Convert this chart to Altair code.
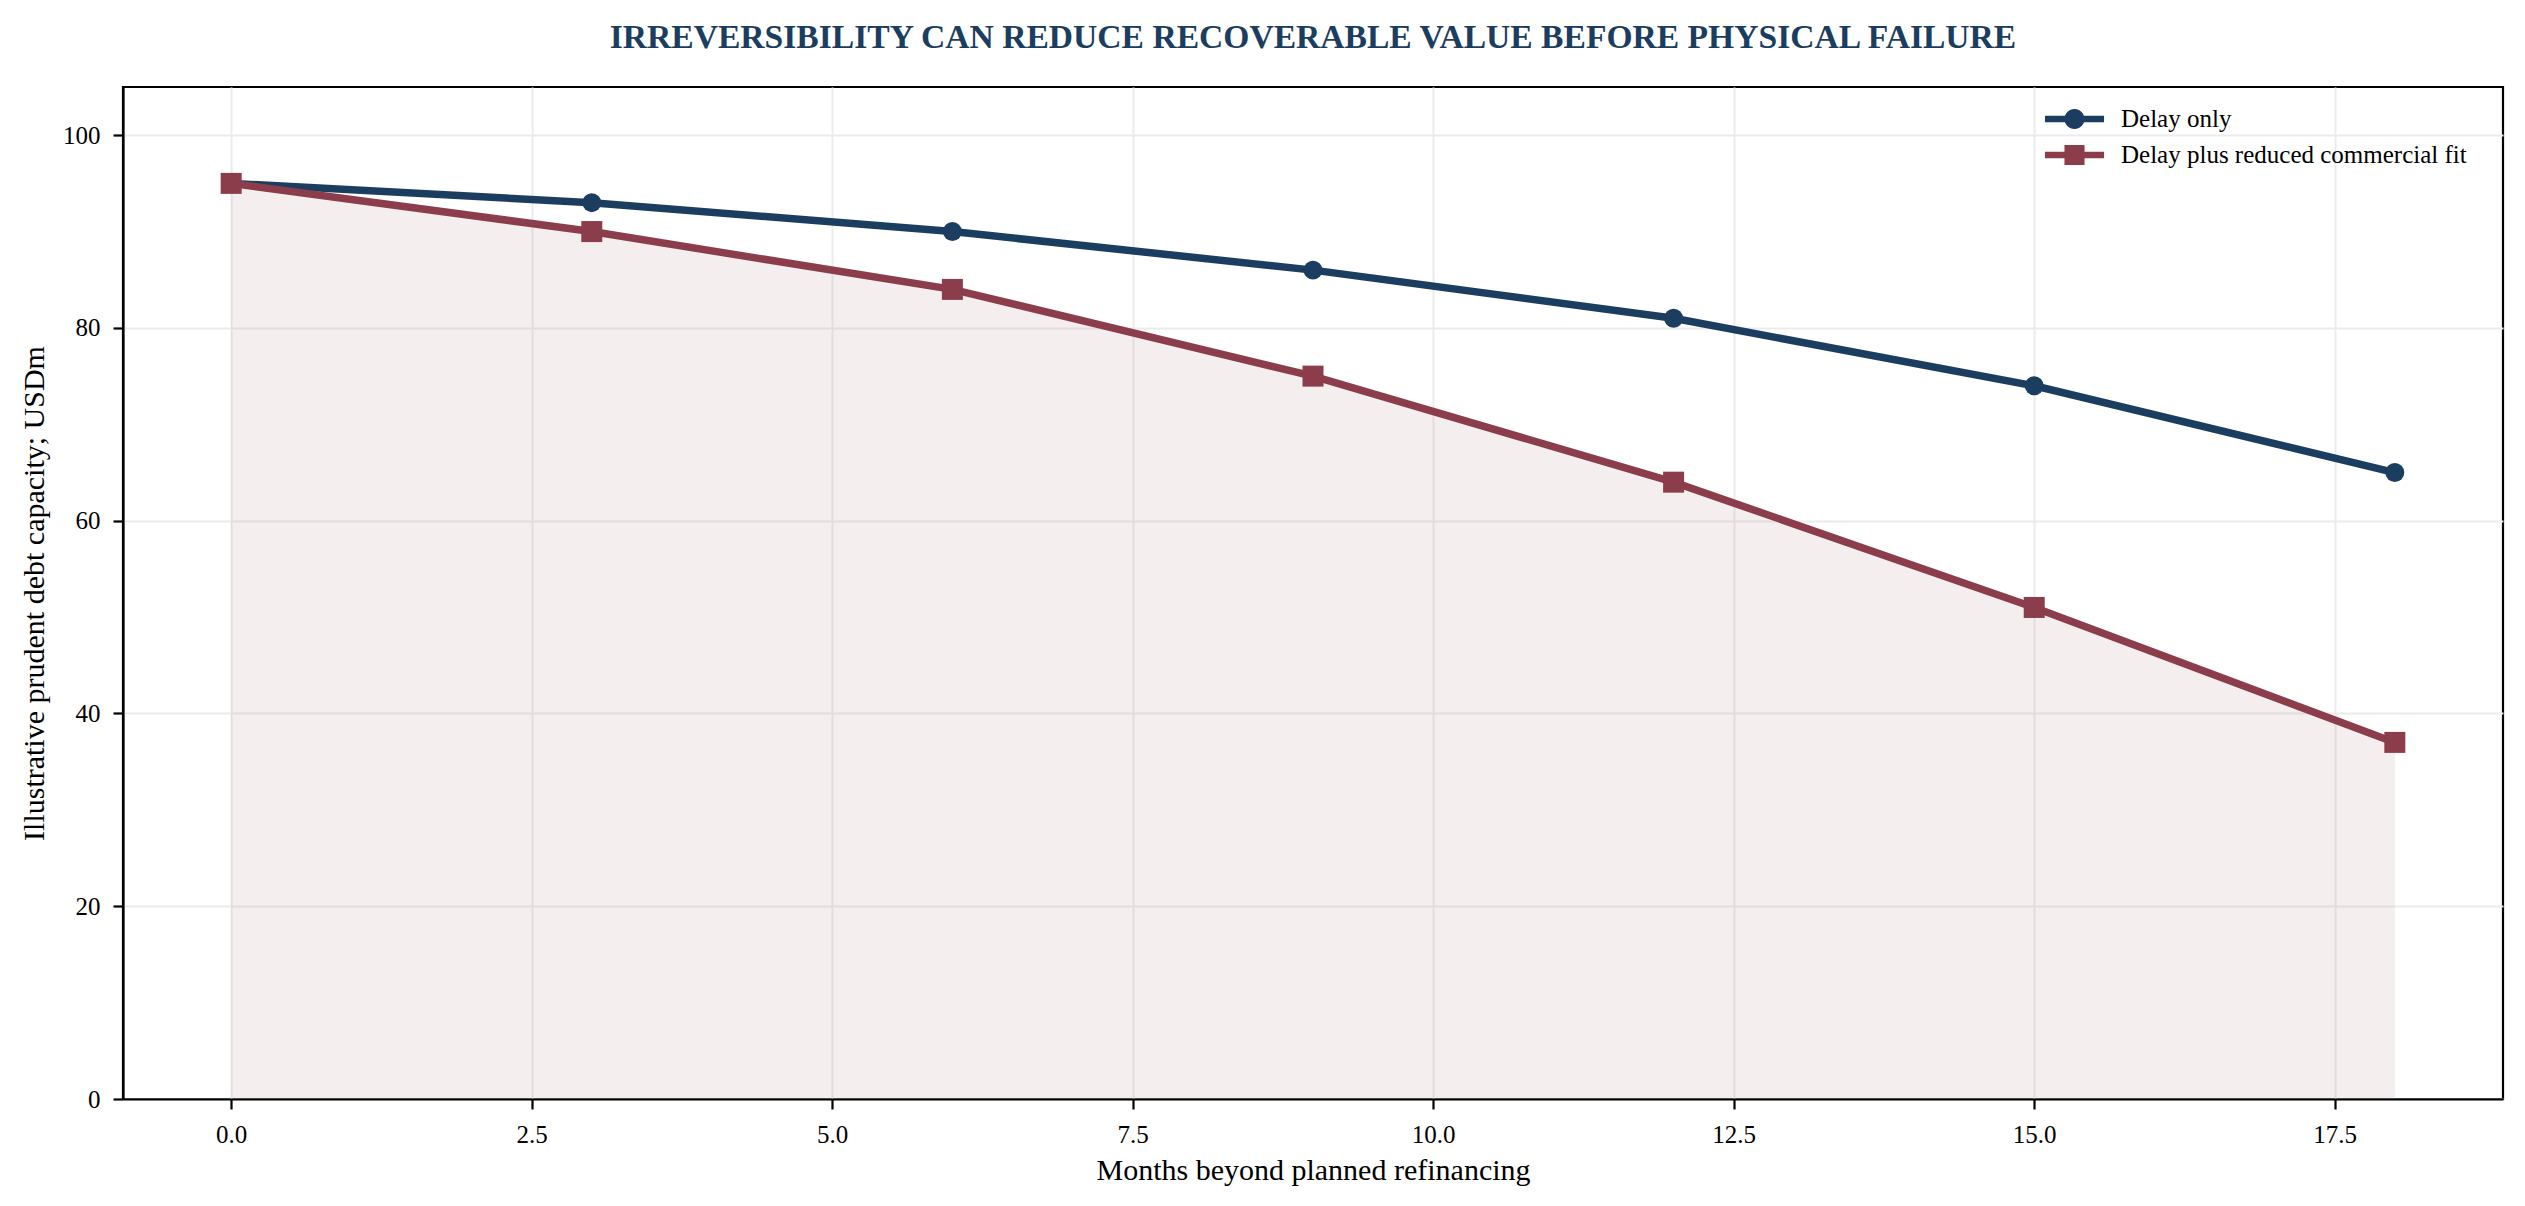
import altair as alt
import pandas as pd

months = [0, 3, 6, 9, 12, 15, 18]
delay_only = [95, 93, 90, 86, 81, 74, 65]
delay_fit = [95, 90, 84, 75, 64, 51, 37]
series_names = ["Delay only", "Delay plus reduced commercial fit"]
x_ticks = [0, 2.5, 5, 7.5, 10, 12.5, 15, 17.5]
y_ticks = [0, 20, 40, 60, 80, 100]

NAVY = "#1b3d60"
MAROON = "#8b3d4c"
FILL = "#b68e8e"
FONT = "Liberation Serif"

rows = []
for m, v in zip(months, delay_only):
    rows.append({"month": m, "value": v, "series": series_names[0]})
for m, v in zip(months, delay_fit):
    rows.append({"month": m, "value": v, "series": series_names[1]})
df = pd.DataFrame(rows)

x_enc = alt.X("month:Q",
              scale=alt.Scale(domain=[-0.9, 18.9], nice=False, zero=False),
              axis=alt.Axis(values=x_ticks, format=".1f",
                            title="Months beyond planned refinancing",
                            titleX=1190, titleY=80, titleBaseline="alphabetic"))
y_enc = alt.Y("value:Q",
              scale=alt.Scale(domain=[0, 105], nice=False),
              axis=alt.Axis(values=y_ticks, format="d",
                            title="Illustrative prudent debt capacity; USDm",
                            titleX=-80, titleY=506, titleBaseline="alphabetic",
                            titleAngle=270))

base = alt.Chart(df)

area = base.transform_filter(alt.datum.series == series_names[1]).mark_area(
    color=FILL, opacity=0.15).encode(x=x_enc, y=y_enc)

line1 = base.transform_filter(alt.datum.series == series_names[0]).mark_line(
    color=NAVY, strokeWidth=7.5).encode(x=x_enc, y=y_enc)
pts1 = base.transform_filter(alt.datum.series == series_names[0]).mark_point(
    shape="circle", filled=True, size=360, opacity=1, color=NAVY, strokeWidth=0).encode(x=x_enc, y=y_enc)
line2 = base.transform_filter(alt.datum.series == series_names[1]).mark_line(
    color=MAROON, strokeWidth=7.5).encode(x=x_enc, y=y_enc)
pts2 = base.transform_filter(alt.datum.series == series_names[1]).mark_point(
    shape="square", filled=True, size=441, opacity=1, color=MAROON, strokeWidth=0).encode(x=x_enc, y=y_enc)

circle_sym = ("M -1.97,-0.22 L 1.97,-0.22 L 1.97,0.22 L -1.97,0.22 Z "
              "M -0.67,0 A 0.67,0.67 0 1,1 0.67,0 A 0.67,0.67 0 1,1 -0.67,0 Z")
square_sym = ("M -1.97,-0.22 L 1.97,-0.22 L 1.97,0.22 L -1.97,0.22 Z "
              "M -0.67,-0.67 L 0.67,-0.67 L 0.67,0.67 L -0.67,0.67 Z")

legend = alt.Legend(title=None, orient="none", legendX=1936.5, legendY=17,
                    padding=0, labelOffset=31.5, rowPadding=8, labelLimit=1000,
                    symbolSize=900, symbolStrokeWidth=0, symbolOpacity=1,
                    labelFont=FONT, labelFontSize=25, labelColor="black",
                    labelBaseline="middle")

legend_layer = base.transform_filter("false").mark_point(
    filled=True, size=900, opacity=1, strokeWidth=0).encode(
    x=x_enc, y=y_enc,
    color=alt.Color("series:N", scale=alt.Scale(domain=series_names, range=[NAVY, MAROON]),
                    legend=legend),
    shape=alt.Shape("series:N", scale=alt.Scale(domain=series_names, range=[circle_sym, square_sym]),
                    legend=legend),
)

chart = alt.layer(area, line1, pts1, line2, pts2, legend_layer).properties(
    width=2380, height=1012,
    autosize=alt.AutoSizeParams(type="none"),
    padding={"left": 115, "top": 79, "right": 10, "bottom": 95},
    title=alt.TitleParams(
        text="IRREVERSIBILITY CAN REDUCE RECOVERABLE VALUE BEFORE PHYSICAL FAILURE",
        font=FONT, fontSize=33.6, fontWeight="bold", color=NAVY,
        anchor="middle", baseline="alphabetic", offset=5),
).configure_view(
    stroke="black", strokeWidth=2.2
).configure_axis(
    labelFont=FONT, labelFontSize=25, labelColor="black",
    titleFont=FONT, titleFontSize=30, titleColor="black", titleFontWeight="normal",
    domainColor="black", domainWidth=2.2,
    tickColor="black", tickWidth=2.2, tickSize=10,
    labelPadding=13,
    grid=True, gridColor="#ebebeb", gridWidth=2,
)

chart.save("out.html", embed_options={"renderer": "svg", "actions": False})
